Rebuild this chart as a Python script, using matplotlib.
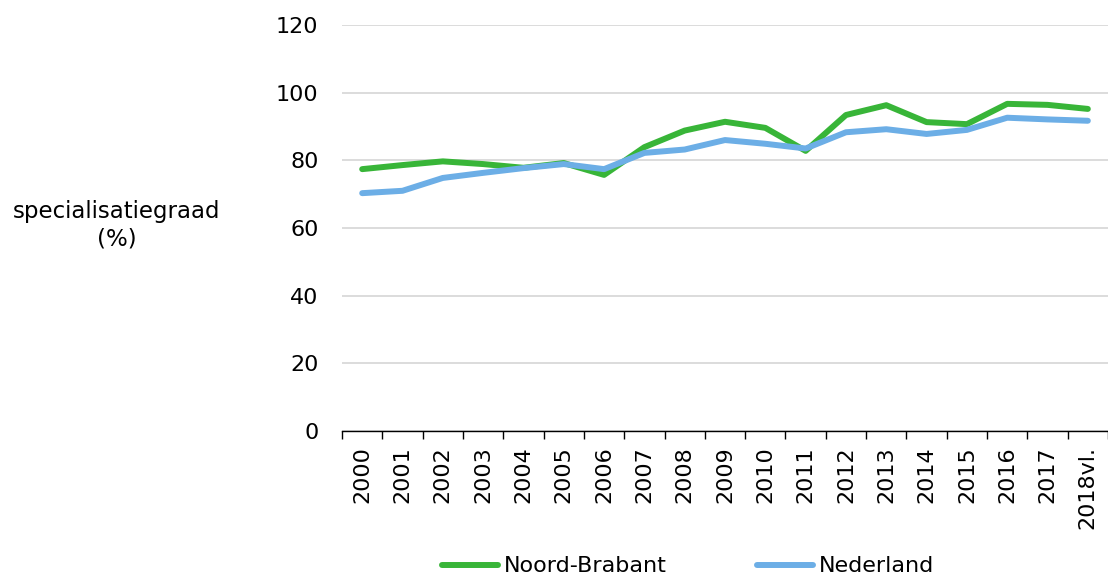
import matplotlib
matplotlib.use("Agg")
from matplotlib import pyplot as plt
import numpy as np

#DATA=======
years = ['2000', '2001', '2002', '2003', '2004', '2005', '2006', '2007', '2008', '2009',
         '2010', '2011', '2012', '2013', '2014', '2015', '2016', '2017', '2018vl.']
noord_brabant = [77.4, 78.6, 79.7, 78.9, 77.8, 79.2, 75.7, 83.9, 88.8, 91.4,
                 89.6, 82.8, 93.4, 96.3, 91.3, 90.7, 96.7, 96.4, 95.2]
nederland = [70.3, 71.0, 74.8, 76.3, 77.7, 78.9, 77.4, 82.2, 83.2, 86.0,
             84.9, 83.5, 88.3, 89.2, 87.8, 89.0, 92.6, 92.1, 91.7]
#===========

green = '#38b538'
blue = '#6caee6'
fs = 16

plt.rcParams['font.family'] = ['DejaVu Sans']
fig = plt.figure(figsize=(11.08, 5.79), dpi=100)
ax = fig.add_axes([0.3087, 0.2556, 0.6913, 0.7012])

x = np.arange(len(years))
ax.plot(x, noord_brabant, color=green, lw=4.3, label='Noord-Brabant', solid_capstyle='round')
ax.plot(x, nederland, color=blue, lw=4.3, label='Nederland', solid_capstyle='round')

ax.set_xlim(-0.5, len(years) - 0.5)
ax.set_ylim(0, 120)
ax.set_yticks(range(0, 121, 20))
ax.yaxis.grid(True, color='#d9d9d9', lw=1.3)
ax.set_axisbelow(True)
ax.tick_params(axis='y', length=0, pad=17, labelsize=fs)

ax.set_xticks(x)
ax.set_xticklabels(years, rotation=90, fontsize=fs)
ax.set_xticks(np.arange(-0.5, len(years)), minor=True)
ax.tick_params(axis='x', which='major', length=0, pad=11)
ax.tick_params(axis='x', which='minor', length=6, width=1, color='black')

for s in ['left', 'right', 'top']:
    ax.spines[s].set_visible(False)
ax.spines['bottom'].set_color('black')
ax.spines['bottom'].set_linewidth(1)

fig.text(0.105, 0.611, 'specialisatiegraad\n(%)', ha='center', va='center',
         fontsize=16.5, linespacing=1.25)

fig.legend(loc='lower center', bbox_to_anchor=(0.621, -0.03), ncol=2, frameon=False,
           fontsize=fs, handlelength=2.5, handletextpad=0.25, columnspacing=4.1)

fig.savefig('out.png', dpi=100)
